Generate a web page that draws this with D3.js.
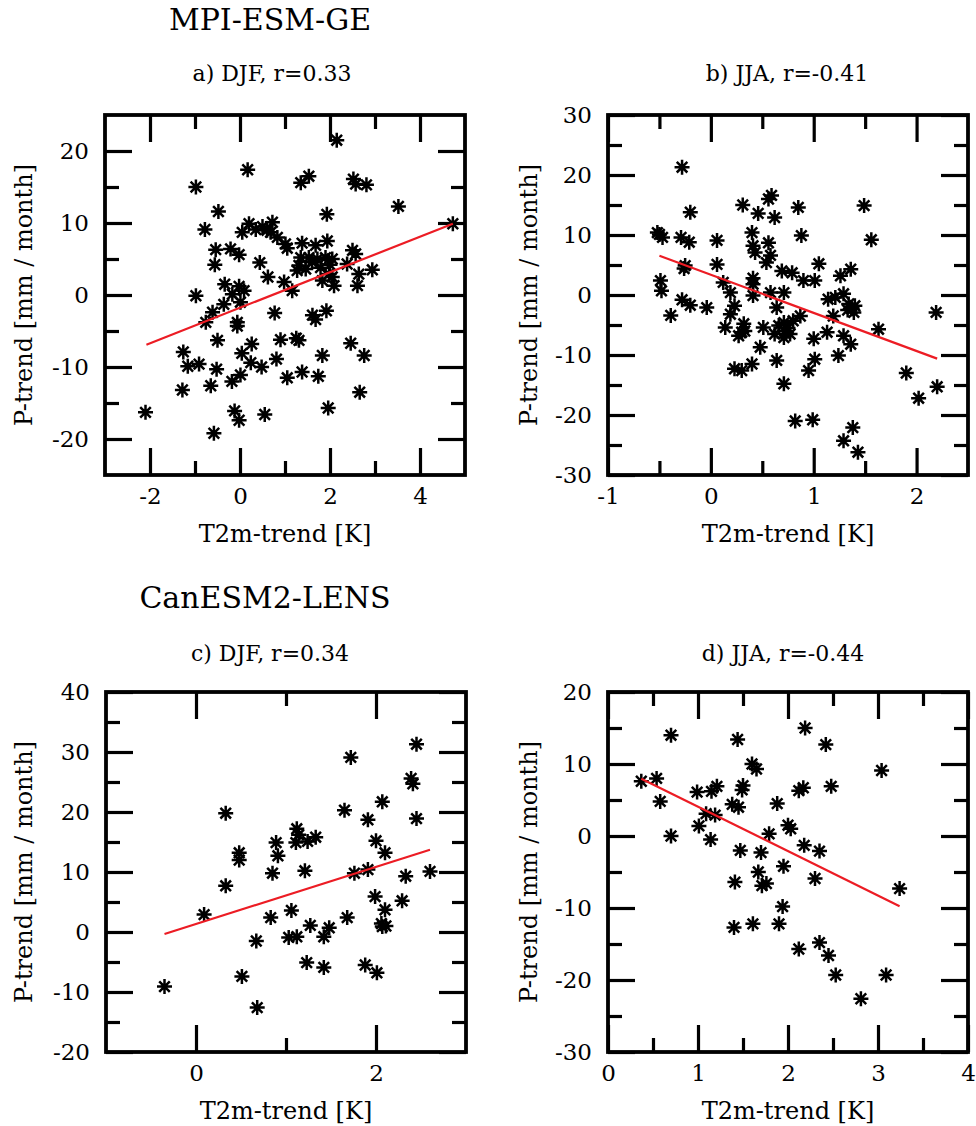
<!DOCTYPE html>
<html>
<head>
<meta charset="utf-8">
<script src="https://cdn.jsdelivr.net/npm/d3@7"></script>
<style>
  html, body { margin: 0; padding: 0; background: #fff; }
  svg text { font-family: "DejaVu Serif", serif; fill: #000; }
</style>
</head>
<body>
<svg id="chart" width="976" height="1126"></svg>
<script>
// ---------------- DATA ----------------
const groupTitles = ["MPI-ESM-GE", "CanESM2-LENS"];
const panelTitles = ["a) DJF, r=0.33", "b) JJA, r=-0.41", "c) DJF, r=0.34", "d) JJA, r=-0.44"];
const xAxisTitle = "T2m-trend [K]";
const yAxisTitle = "P-trend [mm / month]";

// Panel a: MPI-ESM-GE DJF  [T2m-trend, P-trend]
const pointsA = [
  [0.17,17.4],[-0.98,15.0],[-0.48,11.6],[-0.78,9.1],[0.2,9.9],[0.05,8.7],[0.5,9.5],[0.72,10.1],[0.68,8.7],
  [-0.54,6.3],[-0.21,6.4],[-0.02,5.6],[-0.56,4.2],[0.44,4.5],[0.62,2.5],[-0.34,1.5],[-0.02,1.2],
  [1.93,11.2],[0.83,8.0],[1.01,7.1],[1.05,6.5],[1.38,7.2],[1.94,7.5],[1.68,6.9],[2.5,6.2],[2.57,5.7],
  [1.35,5.2],[1.31,4.1],[1.53,5.2],[1.72,5.0],[1.9,5.2],[2.05,5.0],[1.79,3.8],[1.98,2.9],[2.05,2.5],
  [2.09,1.3],[1.46,3.6],[1.27,3.4],[2.64,2.9],[2.61,1.3],[0.98,1.8],[1.16,0.6],[-0.17,0.1],[0.09,0.6],
  [0.01,-1.0],[-0.98,-0.1],[-0.36,-1.3],[-0.61,-2.4],[-0.76,-3.8],[-0.06,-3.8],[-0.06,-4.3],[0.77,-2.5],
  [1.61,-2.8],[1.68,-3.4],[1.92,-2.2],[-0.5,-6.3],[0.26,-6.8],[0.04,-8.1],[0.9,-6.2],[1.25,-6.0],
  [1.31,-6.3],[0.81,-8.9],[2.46,-6.7],[1.83,-8.4],[2.76,-8.4],[0.24,-9.4],[-0.91,-9.6],
  [2.15,21.5],[1.35,15.6],[1.53,16.5],[2.52,16.1],[2.57,15.4],[2.81,15.3],[3.52,12.3],[4.73,9.9],
  [2.94,3.5],[2.38,4.3],[1.83,2.0],
  [1.05,-11.5],[1.38,-10.7],[1.74,-11.3],[2.66,-13.5],[1.96,-15.7],[0.55,-16.6],
  [-1.26,-7.9],[-1.16,-9.9],[-0.52,-10.3],[0.48,-10.0],[0.01,-11.1],[-0.18,-12.0],[-0.65,-12.6],
  [-1.28,-13.2],[-2.1,-16.3],[-0.12,-16.1],[-0.02,-17.4],[-0.58,-19.2],
  [0.35,9.1],[0.6,9.0],[1.6,4.6],[2.0,4.2]
];
const lineA = [[-2.08,-6.9],[4.73,9.9]];

// Panel b: MPI-ESM-GE JJA
const pointsB = [
  [-0.28,21.3],[-0.2,13.8],[0.31,15.0],[0.46,13.6],[0.56,16.0],[0.59,16.6],[0.62,12.9],[-0.52,10.4],
  [-0.47,9.6],[-0.5,10.1],[-0.29,9.6],[-0.21,8.8],[0.06,9.1],[0.40,10.4],[0.41,8.2],[0.43,7.1],
  [0.56,8.7],[0.58,6.6],[0.54,5.4],[0.69,4.0],[-0.25,4.9],[-0.26,4.4],[0.06,5.1],[-0.49,2.4],
  [0.12,2.1],[0.41,2.8],[0.41,1.8],
  [0.85,14.6],[1.49,14.9],[0.88,9.9],[1.56,9.2],[1.05,5.2],[1.36,4.3],[1.26,3.2],[0.79,3.7],[0.90,2.4],[1.01,2.4],
  [0.19,0.4],[0.41,-0.1],[0.58,0.4],[0.71,0.4],[-0.04,-2.1],[0.23,-1.8],[0.64,-2.1],[0.19,-3.2],
  [1.14,-0.7],[1.21,-0.4],[1.29,0.2],[1.34,-1.5],[1.37,-2.3],[1.39,-2.9],[1.19,-3.5],[1.63,-5.7],
  [0.87,-3.5],[0.80,-4.3],[0.71,-4.6],[0.66,-5.1],[0.14,-5.4],[0.32,-4.8],[0.30,-6.2],[0.51,-5.4],
  [0.62,-6.5],[0.71,-7.1],[0.77,-6.5],[0.27,-6.8],[1.0,-7.3],[1.13,-6.2],[1.29,-6.8],[1.36,-8.2],
  [0.48,-8.7],[1.24,-10.1],[1.01,-10.7],[0.64,-10.9],[0.40,-11.5],[0.23,-12.3],[0.30,-12.6],[0.95,-12.6],
  [-0.48,0.7],[-0.28,-0.8],[-0.20,-1.7],[-0.39,-3.4],[0.33,-6.0],[0.71,-14.8],
  [2.19,-2.9],[1.90,-13.0],[2.20,-15.3],[2.02,-17.2],[0.82,-21.0],[0.99,-20.8],[1.38,-22.1],[1.29,-24.3],
  [1.43,-26.2],[1.40,-1.8],[1.33,-2.5],[0.75,-5.5],[0.72,-6.0]
];
const lineB = [[-0.5,6.55],[2.2,-10.6]];

// Panel c: CanESM2-LENS DJF
const pointsC = [
  [2.45,31.3],[1.72,29.1],[2.39,25.6],[2.41,24.7],[2.07,21.7],[1.65,20.3],[1.91,18.7],[2.45,18.9],
  [0.33,19.8],[1.12,17.2],[1.14,16.2],[1.11,14.9],[1.24,15.1],[1.33,15.8],[0.89,14.9],[0.91,12.7],
  [2.0,15.2],[2.10,13.2],[0.48,13.2],[0.48,12.0],[0.85,9.8],[1.21,10.2],[1.76,9.8],[1.91,10.4],
  [2.33,9.3],[2.60,10.1],[0.33,7.7],[0.09,2.9],[1.99,5.9],[2.29,5.2],[2.10,3.7],[0.83,2.4],
  [1.06,3.6],[1.68,2.4],[2.06,1.4],[2.11,1.0],[2.07,0.9],[1.27,1.1],[1.48,0.7],[1.42,-0.8],
  [1.03,-0.9],[1.12,-0.8],[0.67,-1.5],[1.23,-5.1],[1.42,-5.9],[1.88,-5.5],[2.01,-6.8],[0.51,-7.4],
  [-0.35,-9.1],[0.68,-12.6]
];
const lineC = [[-0.35,-0.33],[2.60,13.7]];

// Panel d: CanESM2-LENS JJA
const pointsD = [
  [0.70,14.0],[1.44,13.4],[2.19,15.0],[2.42,12.7],[3.04,9.1],[1.60,10.0],[1.65,9.3],[0.37,7.6],
  [0.54,8.0],[0.58,4.8],[0.70,0.0],[0.99,6.1],[1.15,6.2],[1.21,6.9],[1.50,7.0],[1.49,6.4],
  [2.12,6.3],[2.17,6.7],[2.48,6.9],[1.38,4.4],[1.45,4.0],[1.88,4.5],[1.09,3.1],[1.19,2.9],
  [1.01,1.4],[1.14,-0.5],[2.00,1.5],[2.03,1.0],[1.79,0.3],[2.18,-1.3],[1.47,-2.0],[1.70,-2.3],
  [2.35,-2.1],[1.95,-4.2],[1.67,-5.0],[1.41,-6.4],[1.71,-6.9],[1.76,-6.6],[2.30,-5.9],[3.24,-7.3],
  [1.94,-9.8],[1.40,-12.7],[1.61,-12.2],[1.90,-12.2],[2.12,-15.7],[2.35,-14.8],[2.45,-16.6],
  [2.53,-19.3],[3.09,-19.3],[2.81,-22.6]
];
const lineD = [[0.37,7.96],[3.24,-9.77]];

// Axis tick values
const xMajorA = [-2, 0, 2, 4], xMinorA = [-1, 1, 3];
const yMajorA = [-20, -10, 0, 10, 20], yMinorA = [-15, -5, 5, 15];
const xMajorB = [-1, 0, 1, 2], xMinorB = [-0.5, 0.5, 1.5];
const yMajorB = [-30, -20, -10, 0, 10, 20, 30], yMinorB = [-25, -15, -5, 5, 15, 25];
const xMajorC = [0, 2], xMinorC = [1];
const yMajorC = [-20, -10, 0, 10, 20, 30, 40], yMinorC = [-15, -5, 5, 15, 25, 35];
const xMajorD = [0, 1, 2, 3, 4], xMinorD = [0.5, 1.5, 2.5, 3.5];
const yMajorD = [-30, -20, -10, 0, 10, 20], yMinorD = [-25, -15, -5, 5, 15];

// ---------------- DRAW ----------------
const svg = d3.select("#chart");
const FONT_TICK = 23, FONT_AXIS = 24, FONT_PANEL = 22, FONT_GROUP = 30;
const MAJ = 27, MIN = 14;

const panels = [
  { title: panelTitles[0], pts: pointsA, line: lineA, xd: [-3, 5], yd: [-25, 25],
    xMaj: xMajorA, xMin: xMinorA, yMaj: yMajorA, yMin: yMinorA,
    box: [105, 115, 360, 360], titleX: 272, titleY: 75, yTitleX: 25 },
  { title: panelTitles[1], pts: pointsB, line: lineB, xd: [-1, 2.5], yd: [-30, 30],
    xMaj: xMajorB, xMin: xMinorB, yMaj: yMajorB, yMin: yMinorB,
    box: [608, 115, 360, 360], titleX: 787, titleY: 75, yTitleX: 530 },
  { title: panelTitles[2], pts: pointsC, line: lineC, xd: [-1, 3], yd: [-20, 40],
    xMaj: xMajorC, xMin: xMinorC, yMaj: yMajorC, yMin: yMinorC,
    box: [106, 692, 360, 360], titleX: 270, titleY: 655, yTitleX: 25 },
  { title: panelTitles[3], pts: pointsD, line: lineD, xd: [0, 4], yd: [-30, 20],
    xMaj: xMajorD, xMin: xMinorD, yMaj: yMajorD, yMin: yMinorD,
    box: [608, 692, 360, 360], titleX: 783, titleY: 655, yTitleX: 530 }
];

const fmt = d => String(d);
const star = "M0,-7.5V7.5M-7.5,0H7.5M-5.3,-5.3L5.3,5.3M-5.3,5.3L5.3,-5.3";

function styleAxis(g) {
  g.select(".domain").remove();
  g.selectAll(".tick line").attr("stroke", "#000").attr("stroke-width", 3.2);
  g.selectAll(".tick text").attr("font-size", FONT_TICK).attr("font-family", "DejaVu Serif");
}

panels.forEach(p => {
  const [bx, by, bw, bh] = p.box;
  const x = d3.scaleLinear().domain(p.xd).range([bx, bx + bw]);
  const y = d3.scaleLinear().domain(p.yd).range([by + bh, by]);

  // ticks: bottom (labels) & top
  svg.append("g").attr("transform", `translate(0,${by + bh})`)
    .call(d3.axisBottom(x).tickValues(p.xMaj).tickSize(-MAJ).tickPadding(13).tickFormat(fmt)).call(styleAxis);
  svg.append("g").attr("transform", `translate(0,${by + bh})`)
    .call(d3.axisBottom(x).tickValues(p.xMin).tickSize(-MIN).tickFormat("")).call(styleAxis);
  svg.append("g").attr("transform", `translate(0,${by})`)
    .call(d3.axisTop(x).tickValues(p.xMaj).tickSize(-MAJ).tickFormat("")).call(styleAxis);
  svg.append("g").attr("transform", `translate(0,${by})`)
    .call(d3.axisTop(x).tickValues(p.xMin).tickSize(-MIN).tickFormat("")).call(styleAxis);
  // y ticks: left (labels) & right
  svg.append("g").attr("transform", `translate(${bx},0)`)
    .call(d3.axisLeft(y).tickValues(p.yMaj).tickSize(-MAJ).tickPadding(16).tickFormat(fmt)).call(styleAxis);
  svg.append("g").attr("transform", `translate(${bx},0)`)
    .call(d3.axisLeft(y).tickValues(p.yMin).tickSize(-MIN).tickFormat("")).call(styleAxis);
  svg.append("g").attr("transform", `translate(${bx + bw},0)`)
    .call(d3.axisRight(y).tickValues(p.yMaj).tickSize(-MAJ).tickFormat("")).call(styleAxis);
  svg.append("g").attr("transform", `translate(${bx + bw},0)`)
    .call(d3.axisRight(y).tickValues(p.yMin).tickSize(-MIN).tickFormat("")).call(styleAxis);

  // frame
  svg.append("rect").attr("x", bx).attr("y", by).attr("width", bw).attr("height", bh)
    .attr("fill", "none").attr("stroke", "#000").attr("stroke-width", 3.8);

  // points
  svg.append("g").selectAll("path").data(p.pts).join("path")
    .attr("d", star)
    .attr("transform", d => `translate(${x(d[0])},${y(d[1])})`)
    .attr("stroke", "#000").attr("stroke-width", 2.5).attr("fill", "none");

  // regression line
  svg.append("path").datum(p.line)
    .attr("d", d3.line().x(d => x(d[0])).y(d => y(d[1])))
    .attr("stroke", "#ec1c24").attr("stroke-width", 2.2).attr("fill", "none");

  // titles
  svg.append("text").attr("x", p.titleX).attr("y", p.titleY).attr("text-anchor", "middle")
    .attr("dominant-baseline", "middle").attr("font-size", FONT_PANEL).text(p.title);
  svg.append("text").attr("x", bx + bw / 2).attr("y", by + bh + 60).attr("text-anchor", "middle")
    .attr("dominant-baseline", "middle").attr("font-size", FONT_AXIS).text(xAxisTitle);
  svg.append("text").attr("transform", `translate(${p.yTitleX},${by + bh / 2}) rotate(-90)`)
    .attr("text-anchor", "middle").attr("dominant-baseline", "middle")
    .attr("font-size", FONT_AXIS).text(yAxisTitle);
});

svg.append("text").attr("x", 270).attr("y", 22).attr("text-anchor", "middle")
  .attr("dominant-baseline", "middle").attr("font-size", FONT_GROUP).text(groupTitles[0]);
svg.append("text").attr("x", 265).attr("y", 600).attr("text-anchor", "middle")
  .attr("dominant-baseline", "middle").attr("font-size", FONT_GROUP).text(groupTitles[1]);
</script>
</body>
</html>
